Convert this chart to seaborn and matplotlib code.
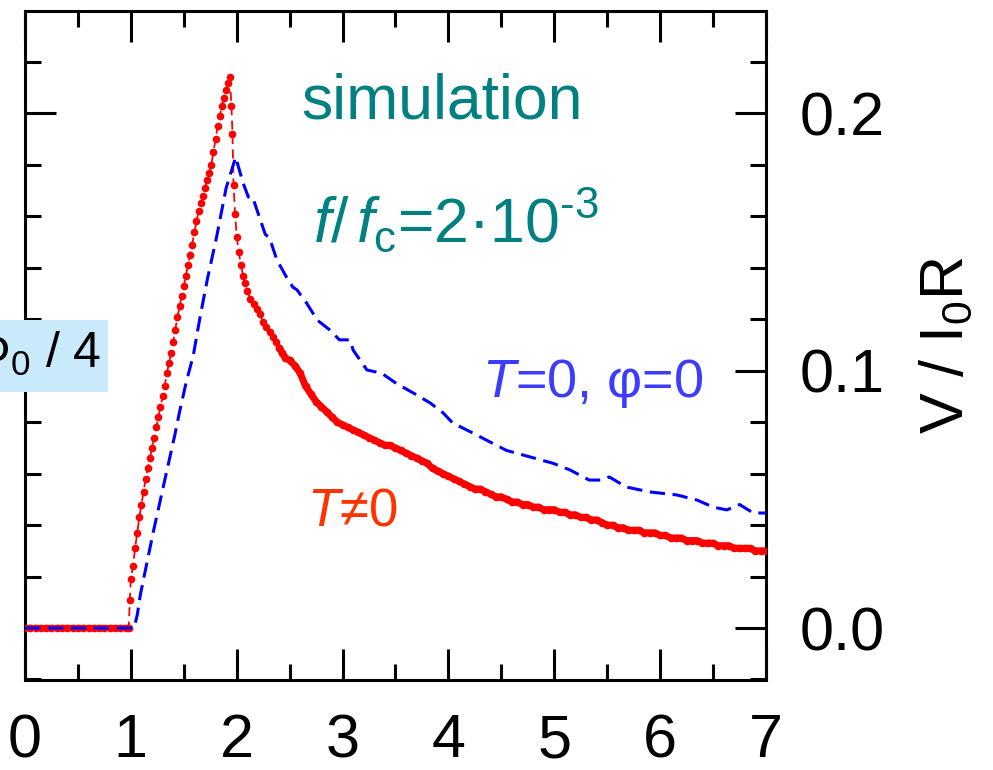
import matplotlib
matplotlib.use("Agg")
import matplotlib.pyplot as plt
import seaborn as sns
import pandas as pd
from matplotlib.patches import Rectangle
from matplotlib.ticker import MultipleLocator

# ---------------- data ----------------
red_x = [0.00, 0.05, 0.10, 0.15, 0.20, 0.25, 0.30, 0.35, 0.40, 0.45, 0.50,
         0.55, 0.60, 0.65, 0.70, 0.75, 0.80, 0.85, 0.90, 0.95, 0.98,
         0.99, 1.00, 1.02, 1.04, 1.06, 1.08, 1.10, 1.12, 1.14, 1.16, 1.18,
         1.20, 1.22, 1.24, 1.26, 1.28, 1.30, 1.32, 1.34, 1.36, 1.38, 1.40,
         1.42, 1.44, 1.46, 1.48, 1.50, 1.52, 1.54, 1.56, 1.58, 1.60, 1.62,
         1.64, 1.66, 1.68, 1.70, 1.72, 1.74, 1.76, 1.78, 1.80, 1.82, 1.84,
         1.86, 1.88, 1.90, 1.92, 1.935,
         1.95, 1.96, 1.97, 1.985, 2.00, 2.02, 2.04, 2.06, 2.08, 2.10, 2.13,
         2.16, 2.19, 2.22, 2.25, 2.28, 2.31, 2.34, 2.37, 2.40, 2.43, 2.46,
         2.50, 2.55, 2.60, 2.65, 2.70, 2.75, 2.80, 2.85, 2.90, 2.95, 3.00,
         3.05, 3.10, 3.15, 3.20, 3.25, 3.30, 3.35, 3.40, 3.45, 3.50, 3.55,
         3.60, 3.65, 3.70, 3.75, 3.80, 3.85, 3.90, 3.95, 4.00, 4.05, 4.10,
         4.15, 4.20, 4.25, 4.30, 4.35, 4.40, 4.45, 4.50, 4.55, 4.60, 4.65,
         4.70, 4.75, 4.80, 4.85, 4.90, 4.95, 5.00, 5.05, 5.10, 5.15, 5.20,
         5.25, 5.30, 5.35, 5.40, 5.45, 5.50, 5.55, 5.60, 5.65, 5.70, 5.75,
         5.80, 5.85, 5.90, 5.95, 6.00, 6.05, 6.10, 6.15, 6.20, 6.25, 6.30,
         6.35, 6.40, 6.45, 6.50, 6.55, 6.60, 6.65, 6.70, 6.75, 6.80, 6.85,
         6.90, 6.95, 7.00]
red_y = [0.0, 0.0, 0.0, 0.0, 0.0, 0.0, 0.0, 0.0, 0.0, 0.0, 0.0,
         0.0, 0.0, 0.0, 0.0, 0.0, 0.0, 0.0, 0.0, 0.0, 0.0,
         0.011, 0.019, 0.024, 0.031, 0.037, 0.043, 0.048, 0.053, 0.058, 0.062, 0.066,
         0.070, 0.074, 0.078, 0.082, 0.086, 0.090, 0.094, 0.099, 0.103, 0.107, 0.111,
         0.116, 0.121, 0.125, 0.129, 0.133, 0.137, 0.141, 0.145, 0.149, 0.154, 0.158,
         0.162, 0.165, 0.168, 0.171, 0.174, 0.177, 0.180, 0.185, 0.190, 0.195, 0.199,
         0.203, 0.206, 0.209, 0.212, 0.214,
         0.203, 0.192, 0.172, 0.161, 0.152, 0.146, 0.141, 0.137, 0.134, 0.131, 0.128,
         0.126, 0.124, 0.122, 0.119, 0.117, 0.115, 0.113, 0.111, 0.109, 0.107, 0.105,
         0.104, 0.102, 0.099, 0.094, 0.091, 0.088, 0.086, 0.084, 0.082, 0.080, 0.079,
         0.078, 0.077, 0.076, 0.075, 0.074, 0.073, 0.072, 0.071, 0.071, 0.070, 0.069,
         0.068, 0.067, 0.066, 0.065, 0.064, 0.062, 0.061, 0.060, 0.059, 0.058, 0.057,
         0.056, 0.055, 0.054, 0.054, 0.053, 0.052, 0.051, 0.051, 0.050, 0.049, 0.049,
         0.048, 0.048, 0.047, 0.047, 0.046, 0.046, 0.046, 0.045, 0.045, 0.044, 0.044,
         0.043, 0.043, 0.042, 0.042, 0.041, 0.040, 0.040, 0.039, 0.039, 0.038, 0.038,
         0.038, 0.037, 0.037, 0.037, 0.036, 0.036, 0.035, 0.035, 0.035, 0.034, 0.034,
         0.034, 0.033, 0.033, 0.033, 0.032, 0.032, 0.032, 0.031, 0.031, 0.031, 0.031,
         0.030, 0.030, 0.030]

blue_x = [0.00, 1.03, 1.06, 1.09, 1.15, 1.21, 1.28, 1.35, 1.41, 1.46, 1.52,
          1.59, 1.65, 1.72, 1.81, 1.90, 1.99, 2.06, 2.11, 2.15, 2.22, 2.27,
          2.31, 2.38, 2.47, 2.53, 2.57, 2.66, 2.76, 2.88, 2.97, 3.07, 3.10,
          3.23, 3.37, 3.51, 3.67, 3.83, 3.95, 4.04, 4.23, 4.36, 4.55, 4.77,
          4.99, 5.15, 5.33, 5.45, 5.52, 5.68, 5.90, 6.16, 6.35, 6.50, 6.63,
          6.75, 6.88, 7.00]
blue_y = [0.0, 0.0, 0.005, 0.013, 0.025, 0.037, 0.050, 0.063, 0.074, 0.084, 0.095,
          0.106, 0.120, 0.135, 0.152, 0.171, 0.183, 0.173, 0.1675, 0.1675, 0.159, 0.153,
          0.1516, 0.143, 0.1364, 0.1325, 0.1314, 0.1263, 0.1197, 0.1158, 0.112, 0.112, 0.108,
          0.1003, 0.099, 0.095, 0.0913, 0.0874, 0.0836, 0.0797, 0.0758, 0.073, 0.069, 0.0665,
          0.064, 0.0614, 0.0575, 0.0575, 0.0587, 0.0548, 0.0529, 0.0517, 0.0497, 0.047, 0.0459,
          0.048, 0.0447, 0.0447]

x_ticks = [0, 1, 2, 3, 4, 5, 6, 7]
y_ticks = [0.0, 0.1, 0.2]
y_tick_labels = ["0.0", "0.1", "0.2"]

# ---------------- style ----------------
sns.set_style("ticks")
plt.rcParams["font.family"] = ["Liberation Sans", "DejaVu Sans"]
plt.rcParams["mathtext.fontset"] = "custom"
plt.rcParams["mathtext.rm"] = "Liberation Sans"
plt.rcParams["mathtext.it"] = "Liberation Sans:italic"
plt.rcParams["mathtext.bf"] = "Liberation Sans:bold"
for k in ["text.color", "axes.labelcolor", "xtick.color", "ytick.color",
          "axes.edgecolor"]:
    plt.rcParams[k] = "black"

fig = plt.figure(figsize=(9.93, 7.70), dpi=100)
ax = fig.add_axes([25 / 993, 1 - 680 / 770, (766 - 25) / 993, (680 - 11) / 770])

red_df = pd.DataFrame({"x": red_x, "y": red_y})
blue_df = pd.DataFrame({"x": blue_x, "y": blue_y})
# dense parts of the simulated record merge into a thick band
red_flat = red_df[red_df["x"] <= 0.98]
red_tail = red_df[red_df["x"] >= 2.40]

sns.lineplot(data=red_flat, x="x", y="y", ax=ax, sort=False, estimator=None,
             color="#ff0000", linewidth=4.5, zorder=2)
sns.lineplot(data=red_tail, x="x", y="y", ax=ax, sort=False, estimator=None,
             color="#ff0000", linewidth=5.0, zorder=2)
sns.lineplot(data=red_df, x="x", y="y", ax=ax, sort=False, estimator=None,
             color="#ff0000", linewidth=1.3, linestyle=(0, (5, 3)),
             marker="o", markersize=5.5, markeredgewidth=0, zorder=3)
sns.lineplot(data=blue_df, x="x", y="y", ax=ax, sort=False, estimator=None,
             color="#0000ff", linewidth=2.2, linestyle=(0, (5, 2.5)), zorder=4)

ax.set_xlim(0, 7)
ax.set_ylim(-0.0202, 0.2398)
ax.set_xticks(x_ticks)
ax.set_xticklabels([str(t) for t in x_ticks])
ax.xaxis.set_minor_locator(MultipleLocator(0.5))
ax.set_yticks(y_ticks)
ax.set_yticklabels(y_tick_labels)
ax.yaxis.set_minor_locator(MultipleLocator(0.02))
ax.set_xlabel("")

for s in ax.spines.values():
    s.set_visible(True)
    s.set_linewidth(2.2)
    s.set_color("black")

ax.tick_params(axis="both", which="both", direction="in", width=2.2, color="black",
               labelcolor="black",
               top=True, bottom=True, left=True, right=True,
               labelleft=False, labelright=True, labeltop=False, labelbottom=True)
ax.tick_params(axis="both", which="major", length=22)
ax.tick_params(axis="both", which="minor", length=11.5)
ax.tick_params(axis="x", which="major", labelsize=44, pad=24)
ax.tick_params(axis="y", which="major", labelsize=44, pad=24)

ax.yaxis.set_label_position("right")
ax.set_ylabel(r"V / I$_0$R", fontsize=44, labelpad=24, rotation=90, color="black")

# ---------------- annotations ----------------
ax.text(2.61, 0.1982, "simulation", color="#008080", fontsize=45,
        ha="left", va="baseline")
ax.text(2.72, 0.150, r"$f$/$\,f_{\mathrm{c}}$=2·10$^{\text{-3}}$", color="#008080",
        fontsize=45, ha="left", va="baseline")
ax.text(4.32, 0.0898, r"$T$=0, φ=0", color="#3c3cff", fontsize=39,
        ha="left", va="baseline")
ax.text(2.66, 0.040, r"$T$≠0", color="#ff3300", fontsize=38,
        ha="left", va="baseline")

# partially visible label box at the left edge
fig.patches.append(Rectangle((0, 1 - 392 / 770), 108 / 993, 72 / 770,
                             transform=fig.transFigure, facecolor="#c9eafb",
                             edgecolor="none", zorder=0))
fig.text(101 / 993, 1 - 368 / 770, r"Φ$_0$ / 4", fontsize=36, color="black",
         ha="right", va="baseline", zorder=5)

fig.savefig("out.png", dpi=100)
